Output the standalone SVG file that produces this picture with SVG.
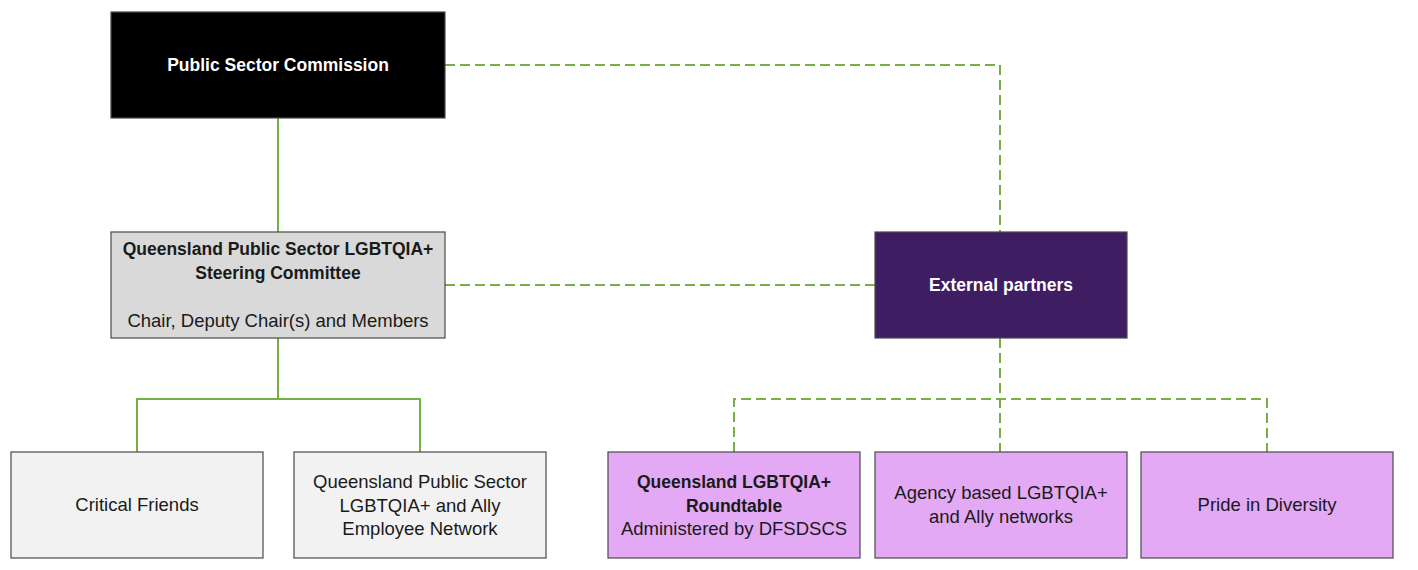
<svg xmlns="http://www.w3.org/2000/svg" width="1418" height="570" viewBox="0 0 1418 570">
<style>
.box{stroke:#4a4a4a;stroke-width:1.2}
.t{font-family:"Liberation Sans",Arial,sans-serif;font-size:18.5px;fill:#1a1a1a;text-anchor:middle}
.b{font-weight:bold;font-size:17.5px}
.w{fill:#ffffff}
.solid{fill:none;stroke:#74b043;stroke-width:2}
.dash{fill:none;stroke:#74b043;stroke-width:2;stroke-dasharray:10 5}
</style>
<rect width="1418" height="570" fill="#ffffff"/>
<g id="connectors">
<path class="solid" d="M278 118V232"/>
<path class="solid" d="M278 338V399M137 452V399H420V452"/>
<path class="dash" d="M445 65H1000V232"/>
<path class="dash" d="M445 285H875"/>
<path class="dash" d="M1000 338V452"/>
<path class="dash" d="M734 452V399H1267V452"/>
</g>
<g id="psc">
<rect class="box" x="111" y="12" width="334" height="106" fill="#000000" stroke="#888"/>
<text class="t b w" x="278" y="71">Public Sector Commission</text>
</g>
<g id="steering">
<rect class="box" x="111" y="232" width="334" height="106" fill="#d9d9d9"/>
<text class="t b" x="278" y="255">Queensland Public Sector LGBTQIA+</text>
<text class="t b" x="278" y="279">Steering Committee</text>
<text class="t" x="278" y="327">Chair, Deputy Chair(s) and Members</text>
</g>
<g id="external">
<rect class="box" x="875" y="232" width="252" height="106" fill="#3f1d63"/>
<text class="t b w" x="1001" y="291">External partners</text>
</g>
<g id="critical">
<rect class="box" x="11" y="452" width="252" height="106" fill="#f2f2f2"/>
<text class="t" x="137" y="511">Critical Friends</text>
</g>
<g id="employee-network">
<rect class="box" x="294" y="452" width="252" height="106" fill="#f2f2f2"/>
<text class="t" x="420" y="488">Queensland Public Sector</text>
<text class="t" x="420" y="512">LGBTQIA+ and Ally</text>
<text class="t" x="420" y="535">Employee Network</text>
</g>
<g id="roundtable">
<rect class="box" x="608" y="452" width="252" height="106" fill="#e3a9f5"/>
<text class="t b" x="734" y="488">Queensland LGBTQIA+</text>
<text class="t b" x="734" y="512">Roundtable</text>
<text class="t" x="734" y="535">Administered by DFSDSCS</text>
</g>
<g id="agency">
<rect class="box" x="875" y="452" width="252" height="106" fill="#e3a9f5"/>
<text class="t" x="1001" y="499">Agency based LGBTQIA+</text>
<text class="t" x="1001" y="523">and Ally networks</text>
</g>
<g id="pride">
<rect class="box" x="1141" y="452" width="252" height="106" fill="#e3a9f5"/>
<text class="t" x="1267" y="511">Pride in Diversity</text>
</g>
</svg>
